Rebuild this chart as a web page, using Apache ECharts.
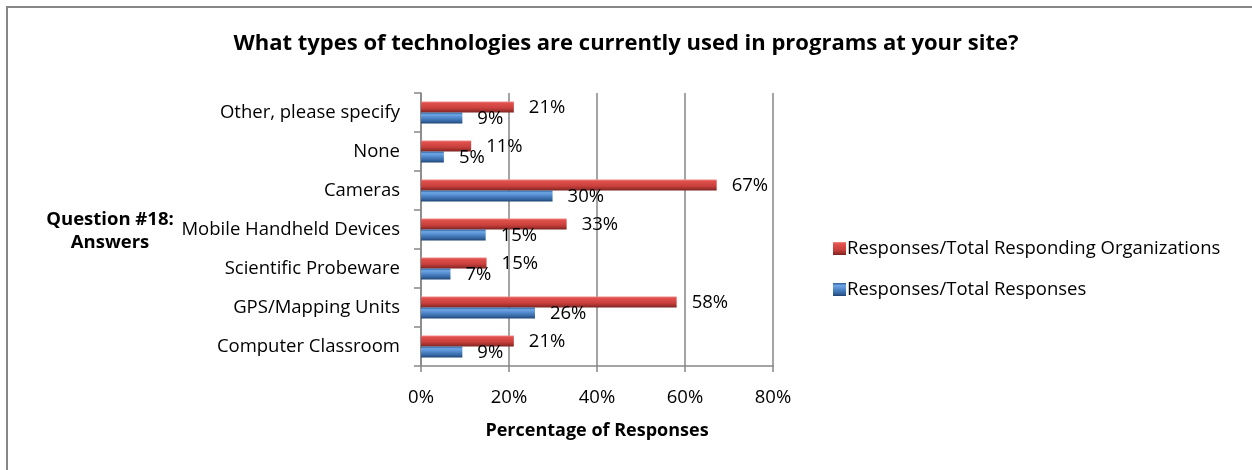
<!DOCTYPE html>
<html>
<head>
<meta charset="utf-8">
<script src="https://cdn.jsdelivr.net/npm/echarts@6/dist/echarts.min.js"></script>
<style>html,body{margin:0;padding:0;background:#fff}#c{width:1252px;height:470px}</style>
</head>
<body>
<div id="c"></div>
<script>
// Categories listed bottom-to-top (ECharts category y-axis order)
const categories = ["Computer Classroom","GPS/Mapping Units","Scientific Probeware","Mobile Handheld Devices","Cameras","None","Other, please specify"];
const totalOrganizations = [21.1, 58.1, 14.9, 33.1, 67.2, 11.4, 21.1];  // Responses/Total Responding Organizations (red)
const totalResponses = [9.4, 25.9, 6.7, 14.7, 29.9, 5.2, 9.4];          // Responses/Total Responses (blue)
const xTicks = [0, 20, 40, 60, 80];
const seriesNames = ["Responses/Total Responding Organizations","Responses/Total Responses"];

const FONT = "Open Sans";
const FS = 18.5;
const chart = echarts.init(document.getElementById('c'));
const redGrad = new echarts.graphic.LinearGradient(0,0,0,1,[
  {offset:0,color:'#f08a87'},{offset:0.15,color:'#e0504c'},{offset:0.6,color:'#c9403c'},{offset:0.85,color:'#9c2f2c'},{offset:1,color:'#7a2220'}]);
const blueGrad = new echarts.graphic.LinearGradient(0,0,0,1,[
  {offset:0,color:'#2d5d96'},{offset:0.2,color:'#6ea6e6'},{offset:0.5,color:'#4f86c8'},{offset:0.85,color:'#2f5f99'},{offset:1,color:'#1f426f'}]);
const lbl = {show:true, position:'right', distance:15, offset:[0,1], fontFamily:FONT, fontSize:FS, color:'#000',
  formatter: p => Math.round(p.value) + '%'};
const nameStyle = {fontFamily:FONT,fontSize:FS,fontWeight:'bold',color:'#000',lineHeight:27,align:'center'};
chart.setOption({
  animation:false,
  backgroundColor:'#fff',
  graphic:[{type:'rect', shape:{x:7,y:7,width:1300,height:500}, style:{fill:'none',stroke:'#868686',lineWidth:2}, silent:true}],
  title:{text:'What types of technologies are currently used in programs at your site?', left:'center', top:28,
    textStyle:{fontFamily:FONT,fontSize:22,fontWeight:'bold',color:'#000'}},
  legend:{orient:'vertical', left:828, top:234, itemWidth:13, itemHeight:13, itemGap:22, icon:'rect',
    data:[{name:seriesNames[0],itemStyle:{color:redGrad}},{name:seriesNames[1],itemStyle:{color:blueGrad}}],
    textStyle:{fontFamily:FONT,fontSize:FS,color:'#000',padding:[0,0,0,-4]}},
  grid:{left:421, right:479, top:93, bottom:104, containLabel:false},
  xAxis:{type:'value', min:0, max:80, interval:20,
    axisLine:{show:true,lineStyle:{color:'#868686',width:1.5}},
    axisTick:{show:true,length:6,lineStyle:{color:'#868686',width:1.5}},
    splitLine:{show:true,lineStyle:{color:'#868686',width:1.5}},
    axisLabel:{margin:22,fontFamily:FONT,fontSize:FS,color:'#000',formatter:v=> xTicks.includes(v)? v+'%':''},
    name:'Percentage of Responses', nameLocation:'middle', nameGap:56,
    nameTextStyle:{fontFamily:FONT,fontSize:18,fontWeight:'bold',color:'#000'}},
  yAxis:{type:'category', data:categories,
    axisLine:{show:true,lineStyle:{color:'#868686',width:1.5}},
    axisTick:{show:true,length:7,lineStyle:{color:'#868686',width:1.5}},
    axisLabel:{margin:21,fontFamily:FONT,fontSize:FS,color:'#000'},
    name:'{a|Question #18:}\n{b|Answers}', nameLocation:'middle', nameRotate:0, nameGap:311,
    nameTextStyle:{fontFamily:FONT,fontSize:FS,fontWeight:'bold',color:'#000',align:'center',verticalAlign:'middle',
      rich:{a:Object.assign({padding:[8,0,0,0]},nameStyle), b:nameStyle}}},
  series:[
    {name:seriesNames[0], type:'bar', data:totalOrganizations, barWidth:11, barGap:'0%', itemStyle:{color:redGrad}, label:lbl},
    {name:seriesNames[1], type:'bar', data:totalResponses, barWidth:11, barGap:'0%', itemStyle:{color:blueGrad}, label:lbl}
  ]
});
</script>
</body>
</html>
